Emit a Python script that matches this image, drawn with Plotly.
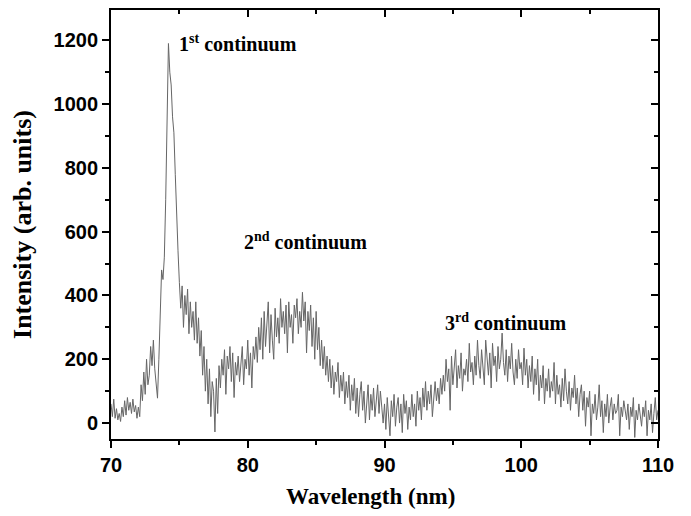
import plotly.graph_objects as go

# Wavelength grid 70.0 .. 110.0 nm, step 0.1 nm
wl_start = 70.0
wl_step = 0.1

intensity = [
    # 70.x
    60, 20, 75, 15, 45, 10, 30, 5, 50, 20,
    # 71.x
    70, 25, 80, 40, 65, 30, 75, 35, 55, 15,
    # 72.x
    50, 20, 120, 70, 160, 90, 200, 120, 150, 240,
    # 73.x
    180, 260, 170, 120, 78, 200, 380, 480, 450, 520,
    # 74.x
    700, 950, 1190, 1100, 1060, 960, 910, 780, 630, 540,
    # 75.x
    440, 360, 430, 300, 400, 340, 420, 280, 380, 300,
    # 76.x
    350, 260, 380, 250, 330, 210, 290, 150, 240, 100,
    # 77.x
    200, 60, 170, 20, 130, 100, -28, 140, 30, 180,
    # 78.x
    110, 200, 150, 230, 90, 210, 170, 240, 130, 220,
    # 79.x
    80, 190, 150, 210, 130, 180, 240, 120, 200, 170,
    # 80.x
    260, 150, 220, 110, 240, 200, 270, 190, 300, 230,
    # 81.x
    330, 200, 350, 240, 310, 380, 220, 340, 260, 200,
    # 82.x
    360, 270, 330, 250, 390, 300, 350, 280, 370, 220,
    # 83.x
    380, 300, 340, 250, 370, 330, 390, 280, 350, 300,
    # 84.x
    410, 320, 380, 220, 350, 290, 370, 240, 330, 200,
    # 85.x
    350, 230, 300, 180, 260, 170, 240, 150, 210, 130,
    # 86.x
    200, 110, 180, 90, 160, 130, 190, 80, 150, 100,
    # 87.x
    160, 60, 130, 80, 150, 40, 120, 70, 140, 30,
    # 88.x
    110, 20, 90, 130, 40, 100, 0, 80, 120, 10,
    # 89.x
    90, 40, 110, 20, 70, 120, 30, 100, 50, 0,
    # 90.x
    60, -20, 80, 10, -40, 70, 20, 90, -10, 50,
    # 91.x
    80, 0, 60, -30, 90, 30, 70, -20, 50, 10,
    # 92.x
    90, 20, 60, -10, 100, 40, 80, 10, 110, 50,
    # 93.x
    130, 40, 100, 60, 120, 20, 90, 130, 70, 110,
    # 94.x
    60, 140, 90, 150, 100, 200, 130, 170, 40, 210,
    # 95.x
    120, 190, 230, 110, 180, 140, 220, 100, 170, 150,
    # 96.x
    200, 130, 250, 160, 190, 120, 210, 150, 260, 180,
    # 97.x
    140, 230, 170, 120, 260, 190, 150, 220, 110, 250,
    # 98.x
    180, 210, 130, 240, 170, 200, 282, 190, 150, 230,
    # 99.x
    130, 210, 170, 250, 160, 120, 200, 140, 230, 170,
    # 100.x
    190, 120, 235, 150, 200, 110, 180, 130, 210, 90,
    # 101.x
    170, 120, 200, 70, 150, 110, 180, 60, 140, 100,
    # 102.x
    170, 80, 130, 100, 190, 60, 150, 90, 120, 50,
    # 103.x
    140, 70, 170, 100, 60, 130, 40, 110, 80, 150,
    # 104.x
    60, 110, 20, 90, 120, 40, 100, -10, 80, 50,
    # 105.x
    100, -40, 60, 30, 90, 10, 50, 120, 20, 70,
    # 106.x
    -30, 60, 20, 90, 0, 50, 80, 10, 60, 30,
    # 107.x
    40, 90, -40, 50, 20, 70, 30, 10, 60, -20,
    # 108.x
    50, 20, 80, -45, 40, 10, 60, 30, -10, 50,
    # 109.x
    20, 70, -40, 40, 10, 60, -30, 30, 80, 10,
    # 110.0
    40,
]

wavelength = [round(wl_start + i * wl_step, 1) for i in range(len(intensity))]

x_ticks = [70, 80, 90, 100, 110]
y_ticks = [0, 200, 400, 600, 800, 1000, 1200]

labels = ["1<sup>st</sup> continuum", "2<sup>nd</sup> continuum", "3<sup>rd</sup> continuum"]
label_x = [74.85, 79.6, 94.3]
label_y = [1190, 570, 318]

x_range = [70, 110]
y_range = [-50, 1295]

fig = go.Figure()
fig.add_trace(go.Scatter(
    x=wavelength, y=intensity, mode="lines",
    line=dict(color="#666666", width=1),
    showlegend=False, hoverinfo="skip",
))

serif = "Liberation Serif, Times New Roman, serif"
sans = "Liberation Sans, Arial, sans-serif"

for t, xx, yy in zip(labels, label_x, label_y):
    fig.add_annotation(
        x=xx, y=yy, text=t, showarrow=False, xanchor="left", yanchor="middle",
        font=dict(family=serif, size=20, color="black", weight="bold"),
    )

# x-axis title (placed slightly left of centre, as in the reference)
fig.add_annotation(
    x=0.475, y=-0.135, xref="paper", yref="paper", xanchor="center", yanchor="middle",
    text="Wavelength (nm)", showarrow=False,
    font=dict(family=serif, size=23, color="black", weight="bold"),
)

tickfont = dict(family=sans, size=20, color="black", weight="bold")

fig.update_layout(
    width=691, height=516,
    margin=dict(l=111, r=33, t=10, b=77),
    plot_bgcolor="white", paper_bgcolor="white",
    xaxis=dict(
        range=x_range, tickvals=x_ticks,
        ticks="outside", ticklen=7, tickwidth=1.5, tickcolor="black",
        minor=dict(ticks="outside", ticklen=4, tickwidth=1.5, tickcolor="black", dtick=5, tick0=70),
        showline=True, linecolor="black", linewidth=1.8, showgrid=False, zeroline=False,
        tickfont=tickfont,
    ),
    yaxis=dict(
        range=y_range, tickvals=y_ticks,
        ticks="outside", ticklen=7, tickwidth=1.5, tickcolor="black",
        minor=dict(ticks="outside", ticklen=4, tickwidth=1.5, tickcolor="black", dtick=100, tick0=0),
        showline=True, linecolor="black", linewidth=1.8, showgrid=False, zeroline=False,
        tickfont=tickfont,
        title=dict(text="Intensity (arb. units)", standoff=14,
                   font=dict(family=serif, size=26, color="black", weight="bold")),
    ),
    xaxis2=dict(
        range=x_range, overlaying="x", side="top", anchor="y",
        tickvals=x_ticks, showticklabels=False,
        ticks="inside", ticklen=7, tickwidth=1.5, tickcolor="black",
        minor=dict(ticks="inside", ticklen=4, tickwidth=1.5, tickcolor="black", dtick=5, tick0=70),
        showline=True, linecolor="black", linewidth=1.8, showgrid=False, zeroline=False,
    ),
    yaxis2=dict(
        range=y_range, overlaying="y", side="right", anchor="x",
        tickvals=y_ticks, showticklabels=False,
        ticks="inside", ticklen=7, tickwidth=1.5, tickcolor="black",
        minor=dict(ticks="inside", ticklen=4, tickwidth=1.5, tickcolor="black", dtick=100, tick0=0),
        showline=True, linecolor="black", linewidth=1.8, showgrid=False, zeroline=False,
    ),
)

# invisible trace to activate the mirrored axes (top / right with inside ticks)
fig.add_trace(go.Scatter(x=[70], y=[0], xaxis="x2", yaxis="y2", mode="markers",
                         marker=dict(opacity=0), showlegend=False, hoverinfo="skip"))

fig.write_html("out.html")
